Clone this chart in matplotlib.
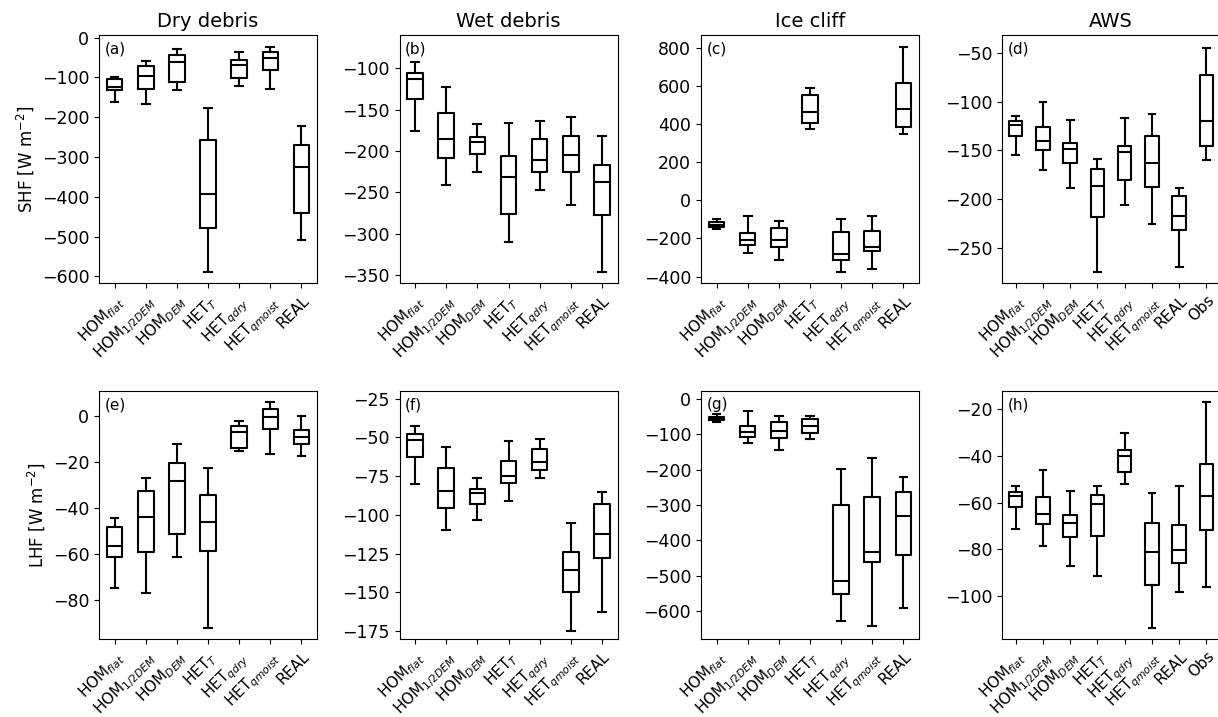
import numpy as np
import matplotlib
matplotlib.use('Agg')
import matplotlib.pyplot as plt

# x tick labels
runs = [r'HOM$_{flat}$', r'HOM$_{1/2DEM}$', r'HOM$_{DEM}$', r'HET$_{T}$',
        r'HET$_{qdry}$', r'HET$_{qmoist}$', 'REAL']
runs_aws = runs + ['Obs']
titles = ['Dry debris', 'Wet debris', 'Ice cliff', 'AWS']
letters = ['(a)', '(b)', '(c)', '(d)', '(e)', '(f)', '(g)', '(h)']

# box stats per run: [whislo, q1, median, q3, whishi]
shf_dry = [[-162, -133, -125, -105, -98], [-168, -130, -96, -71, -59],
           [-133, -112, -61, -43, -28], [-588, -478, -394, -257, -178],
           [-121, -101, -69, -57, -36], [-130, -82, -52, -37, -24],
           [-508, -440, -326, -270, -221]]
shf_wet = [[-176, -137, -113, -106, -93], [-241, -209, -185, -154, -123],
           [-226, -204, -189, -183, -167], [-310, -276, -232, -206, -166],
           [-247, -226, -211, -186, -164], [-265, -226, -205, -182, -159],
           [-347, -278, -238, -217, -182]]
shf_ice = [[-150, -139, -129, -115, -96], [-275, -237, -209, -171, -80],
           [-314, -246, -206, -148, -108], [375, 406, 462, 551, 591],
           [-376, -315, -280, -167, -99], [-359, -268, -246, -162, -85],
           [348, 385, 479, 617, 803]]
shf_aws = [[-155, -135, -124, -120, -115], [-170, -150, -140, -126, -100],
           [-189, -163, -149, -142, -119], [-275, -218, -186, -169, -159],
           [-206, -180, -152, -145, -117], [-225, -188, -163, -135, -113],
           [-269, -232, -217, -197, -189], [-160, -146, -120, -73, -45]]
lhf_dry = [[-74.8, -61.2, -56.7, -48.4, -44.5], [-77, -59.2, -44, -32.7, -26.9],
           [-61.2, -51.2, -28.4, -20.4, -12.2], [-92.4, -58.5, -46.1, -34.5, -22.7],
           [-15.3, -14, -6.8, -4.4, -1.9], [-16.6, -5.4, -0.4, 3, 6.3],
           [-17.3, -12.1, -9.2, -6, -0.1]]
lhf_wet = [[-79.9, -62.4, -51.5, -48, -42.4], [-110, -95.6, -84.4, -69.8, -56],
           [-103.1, -93, -86.1, -83.5, -76.4], [-90.8, -79.7, -74.9, -65.5, -52.3],
           [-76, -70.8, -66.1, -57.7, -51.3], [-174.8, -149.8, -135.2, -123.6, -105],
           [-162.7, -127.6, -112.6, -93, -85.3]]
lhf_ice = [[-64, -59, -55, -50, -41], [-124, -107, -92, -75, -33],
           [-143, -110, -90, -65, -47], [-114, -97, -76, -57, -47],
           [-628, -551, -515, -300, -197], [-643, -461, -433, -278, -166],
           [-592, -442, -332, -263, -221]]
lhf_aws = [[-71.4, -61.9, -57, -55.3, -52.7], [-78.4, -69, -64.7, -57.7, -45.9],
           [-87.3, -74.6, -68.7, -65.3, -55], [-91.6, -74.3, -60.7, -56.7, -52.7],
           [-52, -47, -40, -37.3, -30.3], [-113.9, -95.4, -81.1, -68.6, -55.7],
           [-98.4, -85.9, -80.1, -69.4, -53], [-96.1, -71.9, -57, -43.3, -17]]

panels = [shf_dry, shf_wet, shf_ice, shf_aws, lhf_dry, lhf_wet, lhf_ice, lhf_aws]
ylims = [(-617, 6), (-360, -60), (-435, 866), (-286, -32),
         (-97, 11), (-180, -20), (-679, 23), (-118.4, -12.1)]
yticks = [np.arange(-600, 1, 100), np.arange(-350, -99, 50), np.arange(-400, 801, 200),
          np.arange(-250, -49, 50), np.arange(-80, 1, 20), np.arange(-175, -24, 25),
          np.arange(-600, 1, 100), np.arange(-100, -19, 20)]

fig = plt.figure(figsize=(12.18, 7.17), dpi=100)
lefts = [0.0813, 0.328, 0.5755, 0.8227]
bottoms = [0.605, 0.1088]
w, h = 0.179, 0.346

for i, data in enumerate(panels):
    row, col = divmod(i, 4)
    ax = fig.add_axes([lefts[col], bottoms[row], w, h])
    stats = []
    for lo, q1, med, q3, hi in data:
        stats.append({'whislo': lo, 'q1': q1, 'med': med, 'q3': q3, 'whishi': hi})
    ax.bxp(stats, showfliers=False, widths=0.5,
           boxprops=dict(color='black', linewidth=1.5),
           whiskerprops=dict(color='black', linewidth=1.5),
           capprops=dict(color='black', linewidth=1.5),
           medianprops=dict(color='black', linewidth=1.5))
    labels = runs_aws if col == 3 else runs
    ax.set_xticks(np.arange(1, len(labels) + 1))
    ax.set_xticklabels(labels, rotation=45, ha='right', rotation_mode='anchor',
                       fontsize=11)
    ax.set_yticks(yticks[i])
    ax.set_ylim(*ylims[i])
    ax.tick_params(axis='y', labelsize=12.5)
    ax.text(0.025, 0.975, letters[i], transform=ax.transAxes, va='top',
            ha='left', fontsize=11)
    if row == 0:
        ax.set_title(titles[col], fontsize=14)
    if col == 0:
        ax.set_ylabel('SHF [W m$^{-2}$]' if row == 0 else 'LHF [W m$^{-2}$]',
                      fontsize=12)

fig.savefig('out.png', dpi=100)
